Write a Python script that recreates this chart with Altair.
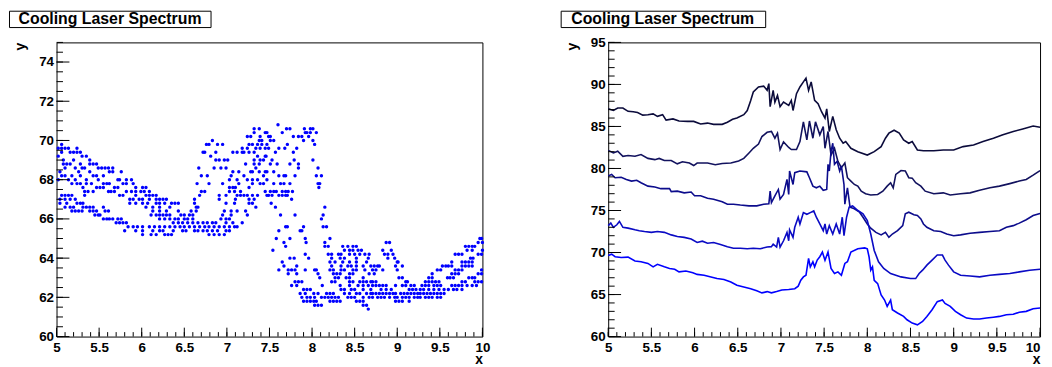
import altair as alt
import pandas as pd

TITLE = "Cooling Laser Spectrum"
FONT = "Liberation Sans"

# ---------------- left panel: scatter dots, y level -> x positions ----------------
DOTS_5_TO_62 = {
    69.8: [5.06],
    69.6: [5.02, 5.06, 5.10, 5.14, 5.24],
    69.4: [5.06, 5.16, 5.20, 5.24, 5.28],
    69.2: [5.02, 5.30, 5.35],
    69.0: [5.08, 5.20, 5.39],
    68.8: [5.08, 5.12, 5.16, 5.28, 5.39, 5.43, 5.47],
    68.6: [5.10, 5.22, 5.30, 5.33, 5.49, 5.53, 5.57, 5.61, 5.66],
    68.4: [5.04, 5.26, 5.39, 5.62, 5.66, 5.76],
    68.2: [5.06, 5.10, 5.18, 5.28, 5.43, 5.47, 5.55],
    68.0: [5.02, 5.14, 5.22, 5.35, 5.49, 5.72, 5.74, 5.82, 5.88],
    67.8: [5.18, 5.24, 5.28, 5.35, 5.41, 5.55, 5.59, 5.62, 5.78, 5.82, 5.90],
    67.6: [5.31, 5.47, 5.51, 5.55, 5.68, 5.72, 5.93, 6.01, 6.05],
    67.4: [5.33, 5.37, 5.43, 5.61, 5.64, 5.68, 5.82, 5.88, 5.93, 5.99, 6.03, 6.09],
    67.2: [5.06, 5.10, 5.14, 5.18, 5.33, 5.74, 5.78, 5.93, 6.05, 6.09, 6.13, 6.17],
    67.0: [5.04, 5.10, 5.16, 5.22, 5.86, 5.90, 5.97, 6.01, 6.09, 6.17],
    66.8: [5.04, 5.12, 5.24, 5.28, 5.31, 5.86, 5.93, 6.01, 6.07, 6.17, 6.21],
    66.6: [5.10, 5.16, 5.20, 5.31, 5.35, 5.39, 5.43, 5.55, 6.05, 6.13],
    66.4: [5.18, 5.22, 5.26, 5.30, 5.39, 5.43, 5.47, 5.57, 5.61, 6.13, 6.21],
    66.2: [5.45, 5.49, 5.51, 6.11, 6.17],
    66.0: [5.55, 5.59, 5.62, 5.66, 5.72, 5.76],
    65.8: [5.70, 5.74, 5.78, 5.82],
    65.6: [5.84, 5.90, 5.95, 6.01, 6.09, 6.15],
    65.4: [5.80, 5.93, 6.01, 6.13],
    65.2: [6.01, 6.11, 6.17],
}

DOTS_62_TO_745 = {
    70.6: [7.32, 7.38],
    70.4: [7.32, 7.45],
    70.2: [7.24, 7.28, 7.39],
    70.0: [6.83, 7.38, 7.41],
    69.8: [6.76, 6.79, 6.89, 6.95, 7.26, 7.30, 7.36, 7.41],
    69.6: [7.18, 7.24, 7.34, 7.39, 7.45],
    69.4: [6.72, 6.74, 6.87, 7.07, 7.12, 7.18, 7.20, 7.26, 7.32],
    69.2: [6.81, 7.36, 7.45],
    69.0: [6.87, 6.91, 6.97, 7.01, 7.32, 7.39, 7.43],
    68.8: [7.22, 7.32, 7.38],
    68.6: [6.67, 6.85, 6.93, 6.99, 7.34],
    68.4: [7.07, 7.14, 7.28, 7.30, 7.38, 7.45],
    68.2: [6.70, 6.77, 7.05, 7.20, 7.43],
    68.0: [7.03, 7.12, 7.24, 7.30, 7.36],
    67.8: [6.65, 6.79, 6.95, 7.14, 7.30, 7.39, 7.43],
    67.6: [7.03, 7.07, 7.10, 7.26],
    67.4: [6.70, 6.74, 7.03, 7.09, 7.16, 7.45],
    67.2: [6.68, 6.91, 6.99, 7.12, 7.16, 7.20, 7.24, 7.30, 7.36, 7.47],
    67.0: [6.21, 6.25, 6.29, 6.62, 6.91, 7.10, 7.26, 7.32],
    66.8: [6.27, 6.35, 6.39, 6.43, 6.62, 6.99, 7.09, 7.26, 7.30],
    66.6: [6.21, 6.33, 6.64, 6.66, 7.34],
    66.4: [6.29, 6.43, 6.58, 6.64, 6.97, 7.05, 7.12, 7.22],
    66.2: [6.21, 6.25, 6.29, 6.33, 6.46, 6.50, 6.56, 6.60, 6.95, 7.05, 7.24],
    66.0: [6.21, 6.27, 6.33, 6.39, 6.43, 6.50, 6.54, 6.60, 6.93, 6.99, 7.03],
    65.8: [6.37, 6.43, 6.48, 6.54, 6.60, 6.66, 6.72, 6.77, 6.83, 6.87, 6.99, 7.07, 7.18],
    65.6: [6.21, 6.27, 6.33, 6.39, 6.45, 6.50, 6.56, 6.62, 6.68, 6.74, 6.79, 6.85,
           6.91, 6.97, 7.03, 7.09, 7.12],
    65.4: [6.21, 6.25, 6.37, 6.48, 6.52, 6.62, 6.66, 6.72, 6.77, 6.83, 6.89, 6.99, 7.03],
    65.2: [6.27, 6.31, 6.35, 6.79, 6.85, 6.91, 6.97],
}

DOTS_745_TO_87 = {
    70.8: [7.60],
    70.6: [7.70, 7.74, 7.91, 7.98, 8.01],
    70.4: [7.47, 7.65, 7.92, 7.94, 7.98, 8.05],
    70.2: [7.49, 7.51, 7.78, 7.84, 7.88, 7.96],
    70.0: [7.51, 7.55, 7.90, 8.01],
    69.8: [7.47, 7.71, 8.03],
    69.6: [7.49, 7.61, 7.68, 7.82],
    69.4: [7.57, 7.78],
    69.2: [7.46],
    69.0: [7.53, 7.79, 8.01],
    68.8: [7.51, 7.59, 7.74, 7.84],
    68.6: [7.84, 8.07],
    68.4: [7.47, 7.55],
    68.2: [7.61, 7.67, 7.69, 7.80, 8.05, 8.11],
    68.0: [7.47],
    67.8: [7.55, 7.63, 7.67, 7.74, 8.07, 8.09],
    67.6: [8.08],
    67.4: [7.51, 7.55, 7.58, 7.65, 7.69, 7.72, 7.77],
    67.2: [7.49, 7.53, 7.61, 7.65, 7.69, 7.71],
    67.0: [7.76],
    66.8: [7.52],
    66.6: [7.57, 8.15],
    66.2: [7.63, 7.80, 8.13],
    66.0: [8.11],
    65.6: [7.69, 7.71, 7.90, 8.13, 8.17],
    65.4: [7.61, 7.86, 7.88],
    65.0: [7.58, 7.74, 7.92, 8.21],
    64.8: [7.67, 7.93, 8.15],
    64.6: [7.69, 8.15, 8.19, 8.36, 8.42, 8.48, 8.52],
    64.4: [7.54, 8.38, 8.44, 8.48, 8.54, 8.58],
    64.2: [7.92, 8.19, 8.23, 8.31, 8.34, 8.44, 8.50, 8.56, 8.62, 8.67],
    64.0: [7.74, 7.79, 7.96, 8.23, 8.33, 8.38, 8.52, 8.66],
    63.8: [7.65, 8.21, 8.27, 8.36, 8.44, 8.52, 8.64],
    63.6: [7.67, 7.82, 8.23, 8.34, 8.42, 8.46, 8.52, 8.60, 8.69],
    63.4: [7.61, 7.72, 7.76, 7.80, 7.92, 8.03, 8.05, 8.21, 8.25, 8.34, 8.38, 8.48, 8.52, 8.62],
    63.2: [7.72, 7.82, 8.07, 8.25, 8.29, 8.33, 8.44, 8.48, 8.67],
    63.0: [8.09, 8.27, 8.31, 8.40, 8.44, 8.60],
    62.8: [7.80, 7.84, 7.88, 8.23, 8.27, 8.44, 8.48, 8.56, 8.60, 8.64, 8.69],
    62.6: [7.76, 7.82, 8.12, 8.33, 8.44, 8.54, 8.60, 8.66],
    62.4: [7.90, 7.94, 7.98, 8.34, 8.38, 8.46, 8.50, 8.60, 8.69],
    62.2: [7.86, 7.92, 8.02, 8.07, 8.17, 8.21, 8.25, 8.38, 8.44, 8.52, 8.56, 8.64, 8.69],
    62.0: [7.88, 7.94, 7.98, 8.03, 8.11, 8.15, 8.19, 8.23, 8.27, 8.31, 8.42, 8.46, 8.50,
           8.60, 8.67],
    61.8: [7.90, 7.94, 7.98, 8.02, 8.05, 8.21, 8.25, 8.29, 8.33, 8.52, 8.56, 8.60],
    61.6: [8.03, 8.07, 8.11, 8.60, 8.64],
    61.4: [8.66],
}

DOTS_87_TO_10 = {
    65.0: [9.97, 9.99],
    64.8: [8.87, 8.91, 9.95, 10.0],
    64.6: [9.80, 9.84, 9.88, 9.91],
    64.4: [8.83, 8.93, 9.82, 9.88, 10.0],
    64.2: [8.85, 8.89, 8.95, 9.68, 9.72, 9.76, 9.95, 9.99],
    64.0: [8.89, 8.97, 9.86, 9.89],
    63.8: [9.00, 9.01, 9.64, 9.76, 9.80, 9.84, 9.88],
    63.6: [8.73, 8.77, 8.79, 8.98, 9.06, 9.53, 9.57, 9.60, 9.64, 9.76, 9.80, 9.84, 9.88],
    63.4: [8.71, 8.75, 8.83, 9.00, 9.47, 9.51, 9.68, 9.72, 9.76, 9.99],
    63.2: [8.73, 9.41, 9.64, 9.68, 9.72, 9.95, 9.99],
    63.0: [9.02, 9.06, 9.37, 9.41, 9.59, 9.62, 9.66, 9.84, 9.88, 9.91],
    62.8: [8.71, 8.75, 9.10, 9.12, 9.33, 9.37, 9.41, 9.45, 9.49, 9.76, 9.80, 9.91, 9.95, 9.99],
    62.6: [8.71, 8.75, 8.79, 8.83, 8.87, 8.98, 9.06, 9.10, 9.16, 9.20, 9.29, 9.33, 9.37,
           9.43, 9.47, 9.51, 9.64, 9.68, 9.72, 9.76, 9.82, 9.88, 9.93],
    62.4: [8.81, 8.87, 8.93, 9.14, 9.18, 9.22, 9.27, 9.31, 9.37, 9.43, 9.49, 9.55, 9.60,
           9.66, 9.70, 9.76],
    62.2: [8.71, 8.75, 8.79, 8.83, 8.87, 8.91, 8.95, 8.98, 9.04, 9.08, 9.12, 9.16, 9.20,
           9.24, 9.27, 9.31, 9.35, 9.39, 9.43, 9.47, 9.51, 9.55],
    62.0: [8.71, 8.77, 8.81, 8.85, 8.91, 8.97, 9.00, 9.06, 9.10, 9.14, 9.20, 9.24, 9.27,
           9.33, 9.37, 9.41, 9.47, 9.51],
    61.8: [8.98, 9.02, 9.06, 9.14],
}

# ---------------- right panel: five spectra ----------------
LINE1_X = [5.00, 5.06, 5.11, 5.17, 5.23, 5.29, 5.34, 5.40, 5.46, 5.52, 5.57, 5.63, 5.67, 5.75,
           5.82, 5.92, 5.99, 6.07, 6.15, 6.22, 6.32, 6.38, 6.44, 6.49, 6.57, 6.61, 6.65, 6.68,
           6.74, 6.80, 6.84, 6.86, 6.875, 6.91, 6.93, 6.96, 6.99, 7.03, 7.09, 7.12, 7.14, 7.18,
           7.22, 7.26, 7.29, 7.32, 7.35, 7.39, 7.43, 7.47, 7.51, 7.53, 7.56, 7.60, 7.64, 7.68,
           7.72, 7.75, 7.81, 7.89, 8.00, 8.08, 8.16, 8.21, 8.25, 8.31, 8.37, 8.42, 8.48, 8.52,
           8.58, 8.65, 8.77, 8.88, 9.00, 9.11, 9.23, 9.34, 9.46, 9.57, 9.69, 9.80, 9.92, 10.0]
LINE1_Y = [87.1, 86.9, 87.2, 87.2, 86.8, 86.75, 86.65, 86.35, 86.4, 86.5, 86.2, 86.4, 85.75, 85.9,
           85.65, 85.6, 85.6, 85.3, 85.4, 85.25, 85.25, 85.5, 85.85, 86.0, 86.4, 86.9, 88.1, 89.1,
           89.7, 89.8, 89.3, 90.1, 87.35, 89.3, 87.9, 88.7, 87.35, 87.9, 87.5, 88.1, 86.9, 88.9,
           89.7, 90.3, 90.75, 89.3, 90.3, 88.1, 87.7, 86.75, 86.0, 87.1, 84.4, 86.2, 84.6, 83.6,
           83.0, 83.2, 82.4, 82.0, 81.6, 82.0, 82.6, 83.6, 84.2, 84.55, 84.2, 83.4, 83.0, 83.2,
           82.2, 82.1, 82.1, 82.2, 82.2, 82.6, 82.8, 83.2, 83.6, 84.0, 84.4, 84.7, 85.05, 84.9]

LINE2_X = [5.00, 5.06, 5.11, 5.17, 5.23, 5.31, 5.38, 5.46, 5.54, 5.59, 5.65, 5.73, 5.80, 5.86,
           5.94, 5.99, 6.03, 6.15, 6.24, 6.32, 6.42, 6.51, 6.57, 6.63, 6.68, 6.74, 6.78, 6.84,
           6.89, 6.93, 6.96, 6.99, 7.03, 7.09, 7.12, 7.18, 7.22, 7.26, 7.30, 7.33, 7.37, 7.40,
           7.45, 7.49, 7.51, 7.545, 7.58, 7.62, 7.66, 7.70, 7.74, 7.77, 7.81, 7.85, 7.89, 7.93,
           7.98, 8.04, 8.12, 8.18, 8.23, 8.27, 8.30, 8.33, 8.39, 8.44, 8.48, 8.52, 8.56, 8.62,
           8.67, 8.77, 8.88, 8.96, 9.08, 9.19, 9.30, 9.42, 9.53, 9.65, 9.76, 9.84, 9.92, 10.0]
LINE2_Y = [82.15, 81.85, 82.05, 81.45, 81.55, 81.45, 81.65, 81.2, 81.05, 81.2, 80.95, 80.95, 80.55,
           80.8, 80.65, 80.35, 80.65, 80.65, 80.45, 80.6, 80.65, 80.9, 81.2, 81.85, 82.4, 82.9,
           83.8, 84.3, 84.4, 83.6, 84.2, 82.25, 83.15, 82.5, 82.25, 82.25, 83.2, 85.55, 83.4,
           85.65, 83.6, 85.55, 84.0, 85.0, 82.4, 84.4, 81.6, 82.4, 80.85, 80.1, 80.65, 78.9, 78.5,
           78.1, 77.9, 77.3, 77.0, 76.85, 76.9, 77.3, 77.9, 78.3, 77.7, 79.3, 79.75, 79.7, 78.9,
           78.85, 78.3, 77.9, 77.3, 77.0, 77.1, 76.85, 77.0, 77.1, 77.4, 77.7, 77.9, 78.2, 78.5,
           78.7, 79.2, 79.75]

LINE3_X = [5.00, 5.04, 5.08, 5.15, 5.21, 5.27, 5.33, 5.38, 5.46, 5.54, 5.61, 5.71, 5.73, 5.80,
           5.88, 5.96, 6.00, 6.07, 6.15, 6.22, 6.32, 6.38, 6.45, 6.53, 6.63, 6.72, 6.80, 6.86,
           6.875, 6.89, 6.93, 6.97, 6.99, 7.03, 7.07, 7.09, 7.10, 7.14, 7.16, 7.22, 7.30, 7.33,
           7.37, 7.41, 7.45, 7.49, 7.53, 7.545, 7.56, 7.58, 7.60, 7.62, 7.65, 7.68, 7.70, 7.73,
           7.74, 7.77, 7.80, 7.85, 7.91, 7.95, 8.00, 8.04, 8.10, 8.16, 8.21, 8.25, 8.29, 8.35,
           8.41, 8.44, 8.48, 8.54, 8.58, 8.62, 8.65, 8.69, 8.77, 8.85, 8.92, 9.00, 9.08, 9.19,
           9.30, 9.42, 9.53, 9.61, 9.69, 9.76, 9.84, 9.92, 10.0]
LINE3_Y = [79.1, 79.3, 78.9, 78.95, 78.7, 78.5, 78.6, 78.3, 77.9, 77.8, 77.6, 77.6, 77.25, 77.3,
           77.1, 77.2, 76.75, 76.75, 76.45, 76.35, 76.05, 75.75, 75.75, 75.65, 75.55, 75.55, 75.75,
           75.8, 77.3, 75.95, 76.75, 77.5, 76.35, 76.9, 78.7, 76.9, 79.7, 78.1, 79.5, 79.7, 79.6,
           78.9, 77.9, 77.7, 77.9, 77.4, 77.5, 80.5, 79.7, 82.0, 83.0, 80.5, 80.85, 79.7, 80.3,
           78.1, 75.75, 77.7, 75.4, 75.2, 74.8, 74.2, 73.4, 72.9, 72.4, 72.1, 72.4, 71.8, 72.2,
           72.6, 73.2, 74.6, 74.8, 74.5, 74.4, 74.0, 73.4, 73.0, 72.6, 72.5, 72.2, 72.0, 72.1,
           72.3, 72.4, 72.5, 72.6, 73.0, 73.2, 73.5, 73.9, 74.4, 74.65]

LINE4_X = [5.00, 5.03, 5.06, 5.10, 5.13, 5.17, 5.23, 5.31, 5.36, 5.42, 5.50, 5.57, 5.65, 5.73,
           5.80, 5.88, 5.96, 6.03, 6.09, 6.15, 6.22, 6.30, 6.38, 6.45, 6.53, 6.61, 6.68, 6.76,
           6.84, 6.89, 6.91, 6.95, 6.97, 6.99, 7.03, 7.07, 7.09, 7.10, 7.14, 7.16, 7.20, 7.22,
           7.26, 7.30, 7.34, 7.38, 7.41, 7.45, 7.49, 7.51, 7.53, 7.56, 7.60, 7.64, 7.68, 7.71,
           7.73, 7.76, 7.79, 7.83, 7.89, 7.95, 8.00, 8.04, 8.08, 8.13, 8.19, 8.27, 8.39, 8.50,
           8.56, 8.60, 8.64, 8.69, 8.75, 8.81, 8.87, 8.90, 8.94, 9.00, 9.08, 9.19, 9.30, 9.42,
           9.53, 9.65, 9.76, 9.88, 10.0]
LINE4_Y = [73.2, 73.5, 73.0, 73.3, 73.7, 73.0, 72.9, 72.7, 72.6, 72.5, 72.4, 72.5, 72.4, 72.1,
           71.9, 71.8, 71.6, 71.2, 71.35, 71.1, 71.2, 70.95, 70.7, 70.5, 70.5, 70.45, 70.5, 70.45,
           70.65, 70.7, 71.0, 70.65, 71.8, 70.65, 71.4, 72.4, 71.4, 72.7, 71.8, 73.0, 74.2, 73.4,
           74.75, 74.55, 74.75, 74.95, 74.2, 73.4, 72.6, 73.4, 72.2, 73.2, 72.2, 73.4, 72.2, 74.2,
           72.0, 74.2, 75.4, 75.55, 75.0, 74.6, 73.8, 72.2, 70.25, 68.9, 68.1, 67.5, 67.1, 66.9,
           66.9, 67.5, 67.9, 68.5, 69.1, 69.7, 69.7, 69.1, 68.5, 67.7, 67.3, 67.2, 67.1, 67.3,
           67.4, 67.5, 67.7, 67.9, 68.0]

LINE5_X = [5.00, 5.04, 5.08, 5.15, 5.23, 5.31, 5.38, 5.46, 5.52, 5.57, 5.65, 5.71, 5.77, 5.82,
           5.90, 5.98, 6.03, 6.11, 6.19, 6.26, 6.34, 6.42, 6.49, 6.57, 6.65, 6.72, 6.78, 6.84,
           6.89, 6.95, 7.01, 7.09, 7.16, 7.20, 7.23, 7.26, 7.29, 7.32, 7.34, 7.37, 7.39, 7.42,
           7.45, 7.48, 7.51, 7.545, 7.58, 7.62, 7.66, 7.70, 7.74, 7.77, 7.81, 7.89, 7.97, 8.00,
           8.02, 8.04, 8.06, 8.08, 8.12, 8.16, 8.20, 8.23, 8.27, 8.29, 8.35, 8.42, 8.46, 8.52,
           8.58, 8.64, 8.69, 8.75, 8.81, 8.87, 8.90, 8.96, 9.02, 9.08, 9.15, 9.23, 9.30, 9.38,
           9.46, 9.53, 9.61, 9.69, 9.76, 9.84, 9.92, 10.0]
LINE5_Y = [69.65, 69.8, 69.5, 69.4, 69.45, 69.0, 68.9, 68.7, 68.3, 68.6, 68.3, 68.1, 68.0, 67.7,
           67.8, 67.6, 67.4, 67.3, 67.1, 66.9, 66.8, 66.5, 66.1, 65.9, 65.7, 65.45, 65.2, 65.35,
           65.2, 65.35, 65.55, 65.6, 65.7, 66.0, 66.7, 67.1, 67.3, 69.3, 68.3, 68.9, 68.3, 69.1,
           69.5, 70.05, 69.07, 70.05, 68.1, 67.5, 67.7, 67.3, 68.7, 68.9, 70.05, 70.45, 70.55,
           70.45, 69.5, 67.9, 68.3, 66.7, 66.3, 64.95, 64.35, 63.6, 64.35, 63.2, 62.8, 62.4, 62.0,
           61.6, 61.4, 61.8, 62.4, 63.2, 64.15, 64.35, 63.95, 63.6, 63.0, 62.6, 62.2, 62.1, 62.1,
           62.2, 62.3, 62.4, 62.6, 62.65, 62.9, 63.0, 63.3, 63.4]

LINE_NAMES = ["trace 1", "trace 2", "trace 3", "trace 4", "trace 5"]
LINE_COLORS = ["#0b0b3b", "#12125e", "#0c0c8c", "#0a0ac4", "#0000ff"]

X_LABELS = [5, 5.5, 6, 6.5, 7, 7.5, 8, 8.5, 9, 9.5, 10]
LEFT_Y_LABELS = [60, 62, 64, 66, 68, 70, 72, 74]
RIGHT_Y_LABELS = [60, 65, 70, 75, 80, 85, 90, 95]

# ---------------- tables ----------------
dot_rows = []
for region in (DOTS_5_TO_62, DOTS_62_TO_745, DOTS_745_TO_87, DOTS_87_TO_10):
    for yv, xs_ in region.items():
        for xv in xs_:
            dot_rows.append({"x": xv, "y": yv})
dots_df = pd.DataFrame(dot_rows)

line_rows = []
for name, lx, ly in zip(LINE_NAMES,
                        [LINE1_X, LINE2_X, LINE3_X, LINE4_X, LINE5_X],
                        [LINE1_Y, LINE2_Y, LINE3_Y, LINE4_Y, LINE5_Y]):
    for xv, yv in zip(lx, ly):
        line_rows.append({"x": xv, "y": yv, "series": name})
lines_df = pd.DataFrame(line_rows)

H = 297
W_LEFT = 430
W_RIGHT = 436

x_minor = [round(5 + i * 0.1, 1) for i in range(51)]


def x_axis(w, last_right=False):
    align = "center"
    if last_right:
        align = {"condition": {"test": "datum.value >= 10", "value": "right"}, "value": "center"}
    return alt.Axis(values=X_LABELS, format="~g", labelFlush=False, labelOverlap=False,
                    labelAlign=align,
                    ticks=False, domain=False, grid=False, labelPadding=4,
                    labelFont=FONT, labelFontSize=13.5, labelFontWeight="bold", labelColor="black",
                    title="x", titleX=w, titleY=27, titleAlign="right", titleBaseline="alphabetic",
                    titleAngle=0, titleFont=FONT, titleFontSize=14, titleFontWeight="bold",
                    titleColor="black")


def y_axis(vals):
    return alt.Axis(values=vals, format="~g", labelOverlap=False, ticks=False,
                    domain=False, grid=False, labelPadding=3, labelFont=FONT, labelFontSize=13.5,
                    labelFontWeight="bold", labelColor="black",
                    title="y", titleX=-32, titleY=0, titleAlign="right", titleAngle=270,
                    titleBaseline="alphabetic", titleFont=FONT, titleFontSize=14,
                    titleFontWeight="bold", titleColor="black")


def decorations(xscale, yscale, xax, yax, y_major, y_minor, box_right, text_cx):
    xmaj = alt.Chart(pd.DataFrame({"v": X_LABELS})).mark_rule(color="black", strokeWidth=1).encode(
        x=alt.X("v:Q", scale=xscale, axis=xax, title="x"), y=alt.value(H), y2=alt.value(H - 9))
    xmin = alt.Chart(pd.DataFrame({"v": x_minor})).mark_rule(color="black", strokeWidth=1).encode(
        x=alt.X("v:Q", scale=xscale, axis=xax, title="x"), y=alt.value(H), y2=alt.value(H - 4.5))
    ymaj = alt.Chart(pd.DataFrame({"v": y_major})).mark_rule(color="black", strokeWidth=1).encode(
        y=alt.Y("v:Q", scale=yscale, axis=yax, title="y"), x=alt.value(0), x2=alt.value(13))
    ymin = alt.Chart(pd.DataFrame({"v": y_minor})).mark_rule(color="black", strokeWidth=1).encode(
        y=alt.Y("v:Q", scale=yscale, axis=yax, title="y"), x=alt.value(0), x2=alt.value(6.5))
    tdf = pd.DataFrame({"label": [TITLE]})
    box = alt.Chart(tdf).mark_rect(fill="white", stroke="black", strokeWidth=1).encode(
        x=alt.value(-47.5), x2=alt.value(box_right), y=alt.value(-31.5), y2=alt.value(-15))
    txt = alt.Chart(tdf).mark_text(font=FONT, fontSize=16, fontWeight="bold", color="black",
                                   align="center", baseline="middle").encode(
        x=alt.value(text_cx), y=alt.value(-24), text="label:N")
    return [xmaj, xmin, ymaj, ymin, box, txt]


xs_left = alt.Scale(domain=[5, 10], nice=False, zero=False)
ys_left = alt.Scale(domain=[60, 75], nice=False, zero=False)
xax_left = x_axis(W_LEFT)
yax_left = y_axis(LEFT_Y_LABELS)
left_main = alt.Chart(dots_df).mark_circle(size=12, color="#0000ff", opacity=1).encode(
    x=alt.X("x:Q", scale=xs_left, axis=xax_left, title="x"),
    y=alt.Y("y:Q", scale=ys_left, axis=yax_left, title="y"),
)
left_y_minor = [round(60 + i * 0.5, 1) for i in range(31)]
left = alt.layer(left_main, *decorations(xs_left, ys_left, xax_left, yax_left,
                                         LEFT_Y_LABELS, left_y_minor, 156, 54)
                 ).properties(width=W_LEFT, height=H)

xs_right = alt.Scale(domain=[5, 10], nice=False, zero=False)
ys_right = alt.Scale(domain=[60, 95], nice=False, zero=False)
xax_right = x_axis(W_RIGHT, last_right=True)
yax_right = y_axis(RIGHT_Y_LABELS)
right_main = alt.Chart(lines_df).mark_line(strokeWidth=1.6).encode(
    x=alt.X("x:Q", scale=xs_right, axis=xax_right, title="x"),
    y=alt.Y("y:Q", scale=ys_right, axis=yax_right, title="y"),
    color=alt.Color("series:N", scale=alt.Scale(domain=LINE_NAMES, range=LINE_COLORS), legend=None),
)
right_y_minor = [60 + i for i in range(36)]
right = alt.layer(right_main, *decorations(xs_right, ys_right, xax_right, yax_right,
                                           RIGHT_Y_LABELS, right_y_minor, 159, 55)
                  ).properties(width=W_RIGHT, height=H)

chart = alt.hconcat(left, right, spacing=69).properties(
    padding={"left": 0, "top": 0, "right": 0, "bottom": 0},
    background="white",
).configure_view(stroke="black", strokeWidth=1)

chart.save("out.html", embed_options={"renderer": "svg", "actions": False})
